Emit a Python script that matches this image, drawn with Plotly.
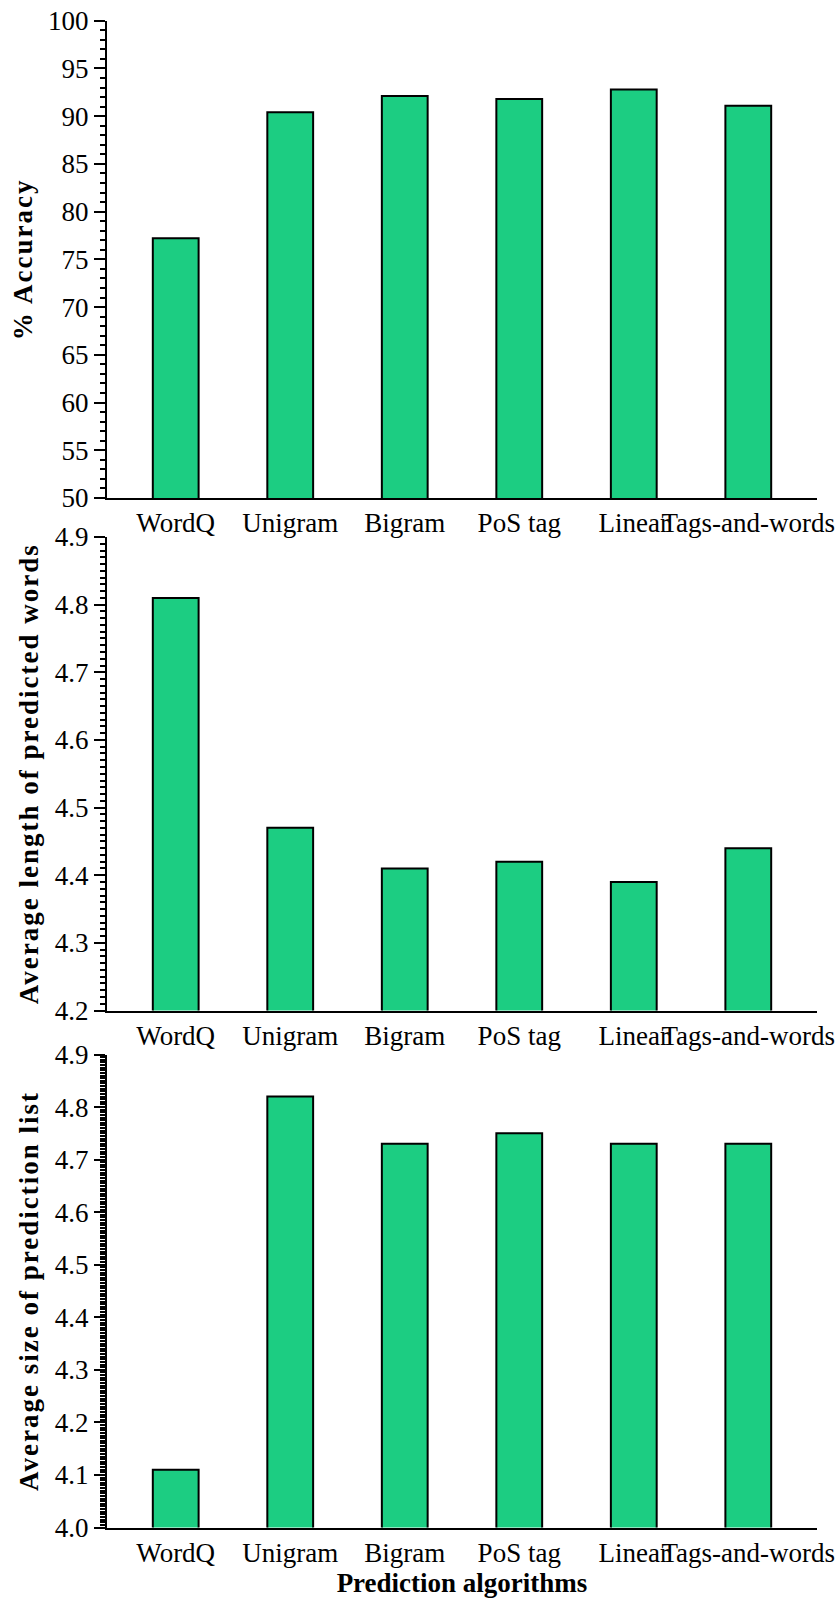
import plotly.graph_objects as go

# ---- data ----
algorithms = ["WordQ", "Unigram", "Bigram", "PoS tag", "Linear", "Tags-and-words"]
accuracy_pct = [77.2, 90.4, 92.1, 91.8, 92.8, 91.1]
avg_word_length = [4.81, 4.47, 4.41, 4.42, 4.39, 4.44]
avg_list_size = [4.11, 4.82, 4.73, 4.75, 4.73, 4.73]

y_titles = ["% Accuracy", "Average length of predicted words", "Average size of prediction list"]
x_title = "Prediction algorithms"

# ---- page geometry (pixels) ----
W, H = 838, 1604
x_left, x_right = 107, 817
panels_px = [(20.7, 498.0), (537.0, 1010.5), (1054.5, 1527.5)]
y_ranges = [[50, 100], [4.2, 4.9], [4.0, 4.9]]
major_dt = [5, 0.1, 0.1]
minor_dt = [1, 0.01, 0.005]
tick_fmt = ["d", ".1f", ".1f"]

FONT = "Liberation Serif"
BAR_GREEN = "#1ccd82"

fig = go.Figure()
series = [accuracy_pct, avg_word_length, avg_list_size]

for i, vals in enumerate(series):
    sfx = "" if i == 0 else str(i + 1)
    fig.add_trace(go.Bar(
        x=algorithms, y=vals,
        xaxis="x" + sfx, yaxis="y" + sfx,
        width=0.4,
        marker=dict(color=BAR_GREEN, line=dict(color="black", width=2)),
        showlegend=False,
    ))

    top, bot = panels_px[i]
    fig.update_layout({
        "xaxis" + sfx: dict(
            domain=[x_left / W, x_right / W],
            anchor="y" + sfx,
            range=[-0.6, 5.6],
            automargin=False,
            showline=True, linecolor="black", linewidth=2,
            ticks="", tickangle=0,
            tickfont=dict(family=FONT, size=27, color="black"),
            showgrid=False, zeroline=False,
            title=dict(text=x_title if i == 2 else "",
                       font=dict(family=FONT, size=27, color="black", weight="bold"),
                       standoff=2),
        ),
        "yaxis" + sfx: dict(
            domain=[1 - bot / H, 1 - top / H],
            anchor="x" + sfx,
            range=y_ranges[i],
            automargin=False,
            dtick=major_dt[i], tick0=y_ranges[i][0],
            tickformat=tick_fmt[i],
            showline=True, linecolor="black", linewidth=2,
            ticks="outside", ticklen=11, tickwidth=2, tickcolor="black",
            minor=dict(dtick=minor_dt[i], ticks="outside", ticklen=5,
                       tickwidth=1.5, tickcolor="black"),
            tickfont=dict(family=FONT, size=27, color="black"),
            showgrid=False, zeroline=False,
            title=dict(text=y_titles[i],
                       font=dict(family=FONT, size=27, color="black", weight="bold"),
                       standoff=8),
        ),
    })

fig.update_layout(
    template="none",
    width=W, height=H,
    margin=dict(l=0, r=0, t=0, b=0),
    paper_bgcolor="white", plot_bgcolor="white",
    bargap=0.6,
)

# spaced-out lettering for the rotated y-axis titles
spacing_css = (
    "var s=document.createElement('style');"
    "s.textContent='text.ytitle,text.y2title,text.y3title{letter-spacing:2px}';"
    "document.head.appendChild(s);"
)
fig.write_html("out.html", post_script=spacing_css)
